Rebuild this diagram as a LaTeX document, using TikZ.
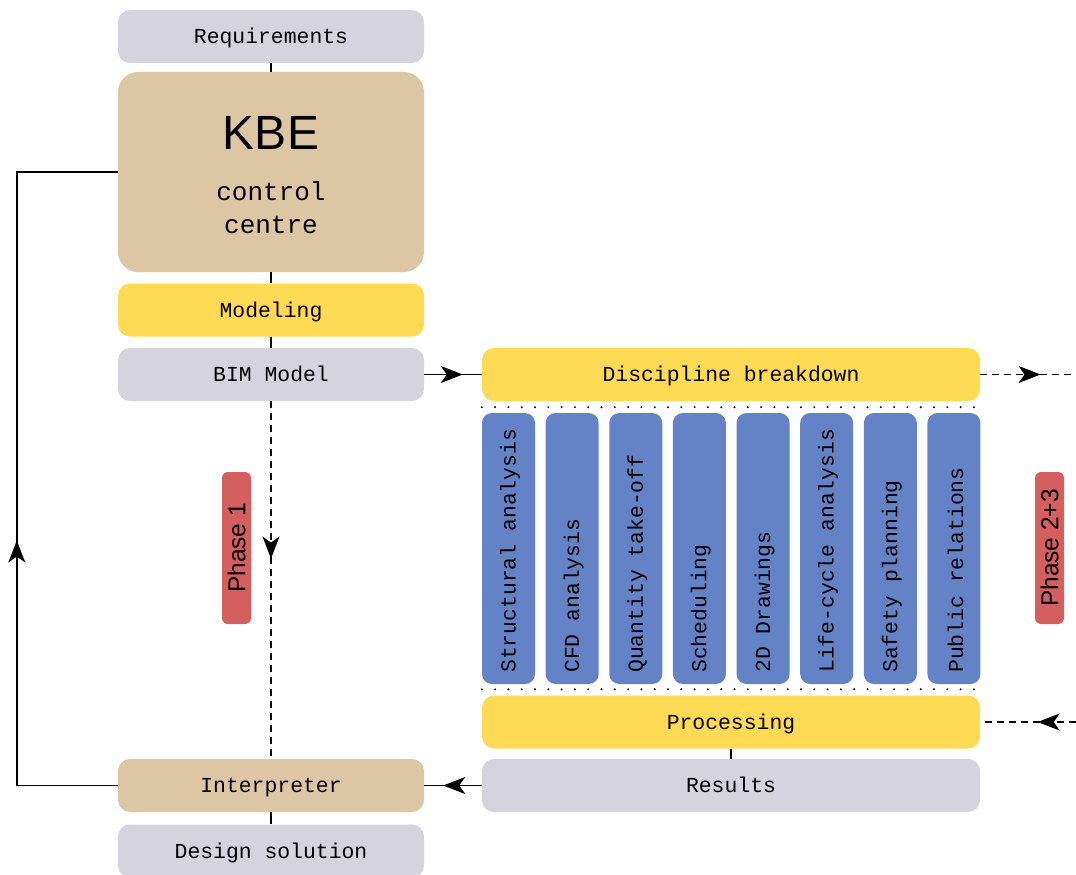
\documentclass[tikz,border=0pt]{standalone}
\usepackage{fontspec}
\setmainfont{Liberation Sans}
\setmonofont{Liberation Mono}
\usetikzlibrary{arrows.meta, decorations.markings}
\definecolor{gry}{RGB}{213, 212, 222}
\definecolor{tan}{RGB}{220, 198, 164}
\definecolor{ylw}{RGB}{255, 218, 84}
\definecolor{blu}{RGB}{99, 131, 198}
\definecolor{rdd}{RGB}{213, 94, 94}

\begin{document}
\begin{tikzpicture}[
    x=1pt, y=-1pt,
    blk/.style={rectangle, rounded corners=12pt, fill=#1, minimum width=306pt,
      minimum height=53pt, inner sep=0pt, text height=16pt, text depth=2pt,
      font=\fontsize{21.4}{24}\selectfont\ttfamily},
    wide/.style={blk=#1, minimum width=498pt},
    col/.style={rectangle, rounded corners=10pt, fill=blu,
      minimum width=53pt, minimum height=271pt},
    lbl/.style={rotate=90, anchor=west, inner sep=0pt,
      font=\fontsize{21.4}{24}\selectfont\ttfamily},
    phase/.style={rectangle, rounded corners=6pt, fill=rdd, rotate=90,
      minimum width=152pt, minimum height=29pt, inner sep=0pt,
      font=\fontsize{24.5}{26}\selectfont},
    ln/.style={line width=1.6pt},
    dsh/.style={ln, dash pattern=on 7pt off 5pt},
    dots/.style={line width=2.2pt, line cap=round, dash pattern=on 0pt off 13.3pt},
    mid/.style={postaction={decorate}, decoration={markings,
      mark=at position #1 with {\arrow{Stealth[length=22pt, width=17pt, inset=6pt]}}}}
  ]
  \useasboundingbox (0,0) rectangle (1076,875);

  % left column
  \node[blk=gry] (req) at (271, 36.5) {Requirements};
  \node[blk=tan, minimum height=200pt, rounded corners=20pt] (kbe) at (271, 172) {};
  \node[font=\fontsize{48}{48}\selectfont] (kbet) at (271, 133) {KBE};
  \node[align=center, font=\fontsize{26}{33}\selectfont\ttfamily] (kbes) at (271, 207.5)
    {control\\centre};
  \node[blk=ylw] (model) at (271, 310) {Modeling};
  \node[blk=gry] (bim) at (271, 374.5) {BIM Model};
  \node[blk=tan] (interp) at (271, 785.5) {Interpreter};
  \node[blk=gry] (design) at (271, 851) {Design solution};
  \node[phase] (ph1) at (236.5, 548) {Phase 1};

  % right column
  \node[wide=ylw] (disc) at (731, 374.5) {Discipline breakdown};
  \node[wide=ylw] (proc) at (731, 722) {Processing};
  \node[wide=gry] (res) at (731, 785.5) {Results};
  \node[phase] (ph2) at (1049.5, 548) {Phase 2+3};

  \foreach \t [count=\i from 0] in {Structural analysis, CFD analysis,
      Quantity take-off, Scheduling, 2D Drawings, Life-cycle analysis,
      Safety planning, Public relations} {
    \node[col] (c\i) at (508.5+63.64*\i, 548.5) {};
    \node[lbl] (t\i) at (510+63.64*\i, 673) {\t};
  }

  \draw[dots] ([yshift=-6pt]disc.south west) -- ([yshift=-6pt]disc.south east);
  \draw[dots] ([yshift=6pt]proc.north west) -- ([yshift=6pt]proc.north east);

  \coordinate (outR) at (1076, 374.5);
  \coordinate (inR) at (1076, 722);

  % connectors
  \draw[ln] (req) -- (kbe);
  \draw[ln] (kbe) -- (model);
  \draw[ln] (model) -- (bim);
  \draw[ln] (interp) -- (design);
  \draw[ln] (proc) -- (res);
  \draw[ln, mid=0.67] (bim) -- (disc);
  \draw[dsh, mid=0.63] (disc) -- (outR);
  \draw[dsh, mid=0.4] (inR) -- (proc);
  \draw[ln, mid=0.67] (res) -- (interp);
  \draw[dsh, mid=0.44] (bim) -- (interp);
  \draw[ln, mid=346pt] (interp.west) -- ++(-101,0) |- (kbe.west);
\end{tikzpicture}
\end{document}
